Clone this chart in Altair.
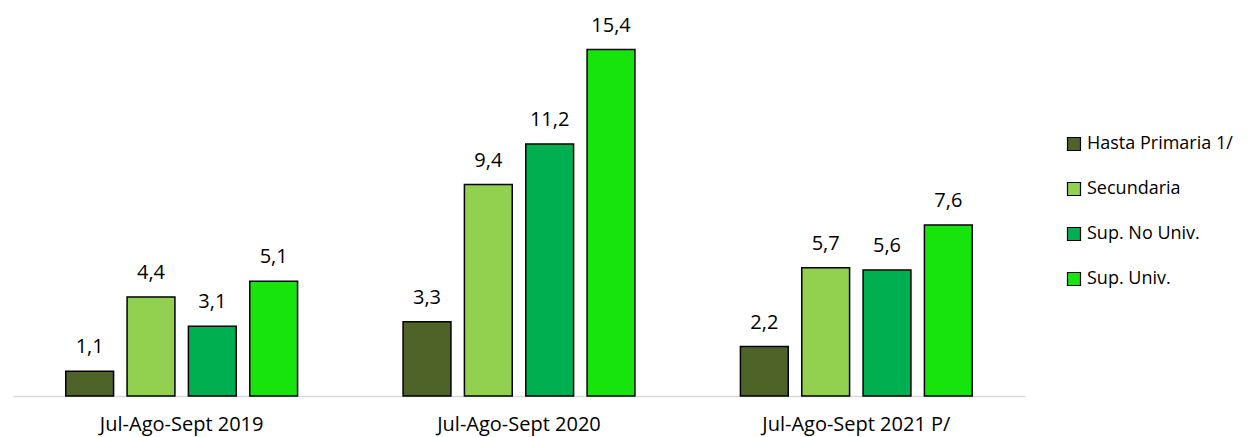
import altair as alt
import pandas as pd

periods = ["Jul-Ago-Sept 2019", "Jul-Ago-Sept 2020", "Jul-Ago-Sept 2021 P/"]
levels = ["Hasta Primaria 1/", "Secundaria", "Sup. No Univ.", "Sup. Univ."]
colors = ["#4F6228", "#92D050", "#00B050", "#17E30D"]
values = {
    "Jul-Ago-Sept 2019": [1.1, 4.4, 3.1, 5.1],
    "Jul-Ago-Sept 2020": [3.3, 9.4, 11.2, 15.4],
    "Jul-Ago-Sept 2021 P/": [2.2, 5.7, 5.6, 7.6],
}

rows = []
for p in periods:
    for lv, v in zip(levels, values[p]):
        rows.append({"period": p, "level": lv, "value": v,
                     "label": f"{v:.1f}".replace(".", ",")})
df = pd.DataFrame(rows)

FONT = "Open Sans"
FS = 20

x = alt.X("period:N", sort=periods, title=None,
          scale=alt.Scale(paddingInner=0, paddingOuter=0),
          axis=alt.Axis(labelAngle=0, ticks=False, domainColor="#D9D9D9",
                        domainWidth=1.5, labelFontSize=FS, labelFont=FONT,
                        labelColor="#000000", labelPadding=18, grid=False,
                        labelLimit=400))
xo = alt.XOffset("level:N", sort=levels,
                 scale=alt.Scale(paddingInner=0.22, paddingOuter=0.86))
y = alt.Y("value:Q", scale=alt.Scale(domain=[0, 16]), axis=None)

bars = alt.Chart(df).mark_bar(stroke="#000000", strokeWidth=1.5).encode(
    x=x, xOffset=xo, y=y,
    color=alt.Color("level:N", sort=levels,
                    scale=alt.Scale(domain=levels, range=colors),
                    legend=alt.Legend(title=None, orient="none", legendX=1052,
                                      legendY=99, symbolType="square",
                                      symbolSize=169, symbolStrokeColor="#000000",
                                      symbolStrokeWidth=1.2, labelFontSize=18,
                                      labelFont=FONT, labelColor="#000000",
                                      rowPadding=27, padding=0, labelOffset=4,
                                      labelLimit=300)),
)

labels = alt.Chart(df).mark_text(baseline="alphabetic", dy=-18, fontSize=FS,
                                 font=FONT, color="#000000").encode(
    x=alt.X("period:N", sort=periods), xOffset=alt.XOffset("level:N", sort=levels),
    y=alt.Y("value:Q"), text="label:N")

chart = alt.layer(bars, labels).properties(
    width=1012, height=360,
    padding={"left": 5, "top": 28, "right": 215, "bottom": 40},
    autosize=alt.AutoSizeParams(type="none"),
).configure_view(stroke=None)

chart.save("out.html", embed_options={"renderer": "svg", "actions": False})
